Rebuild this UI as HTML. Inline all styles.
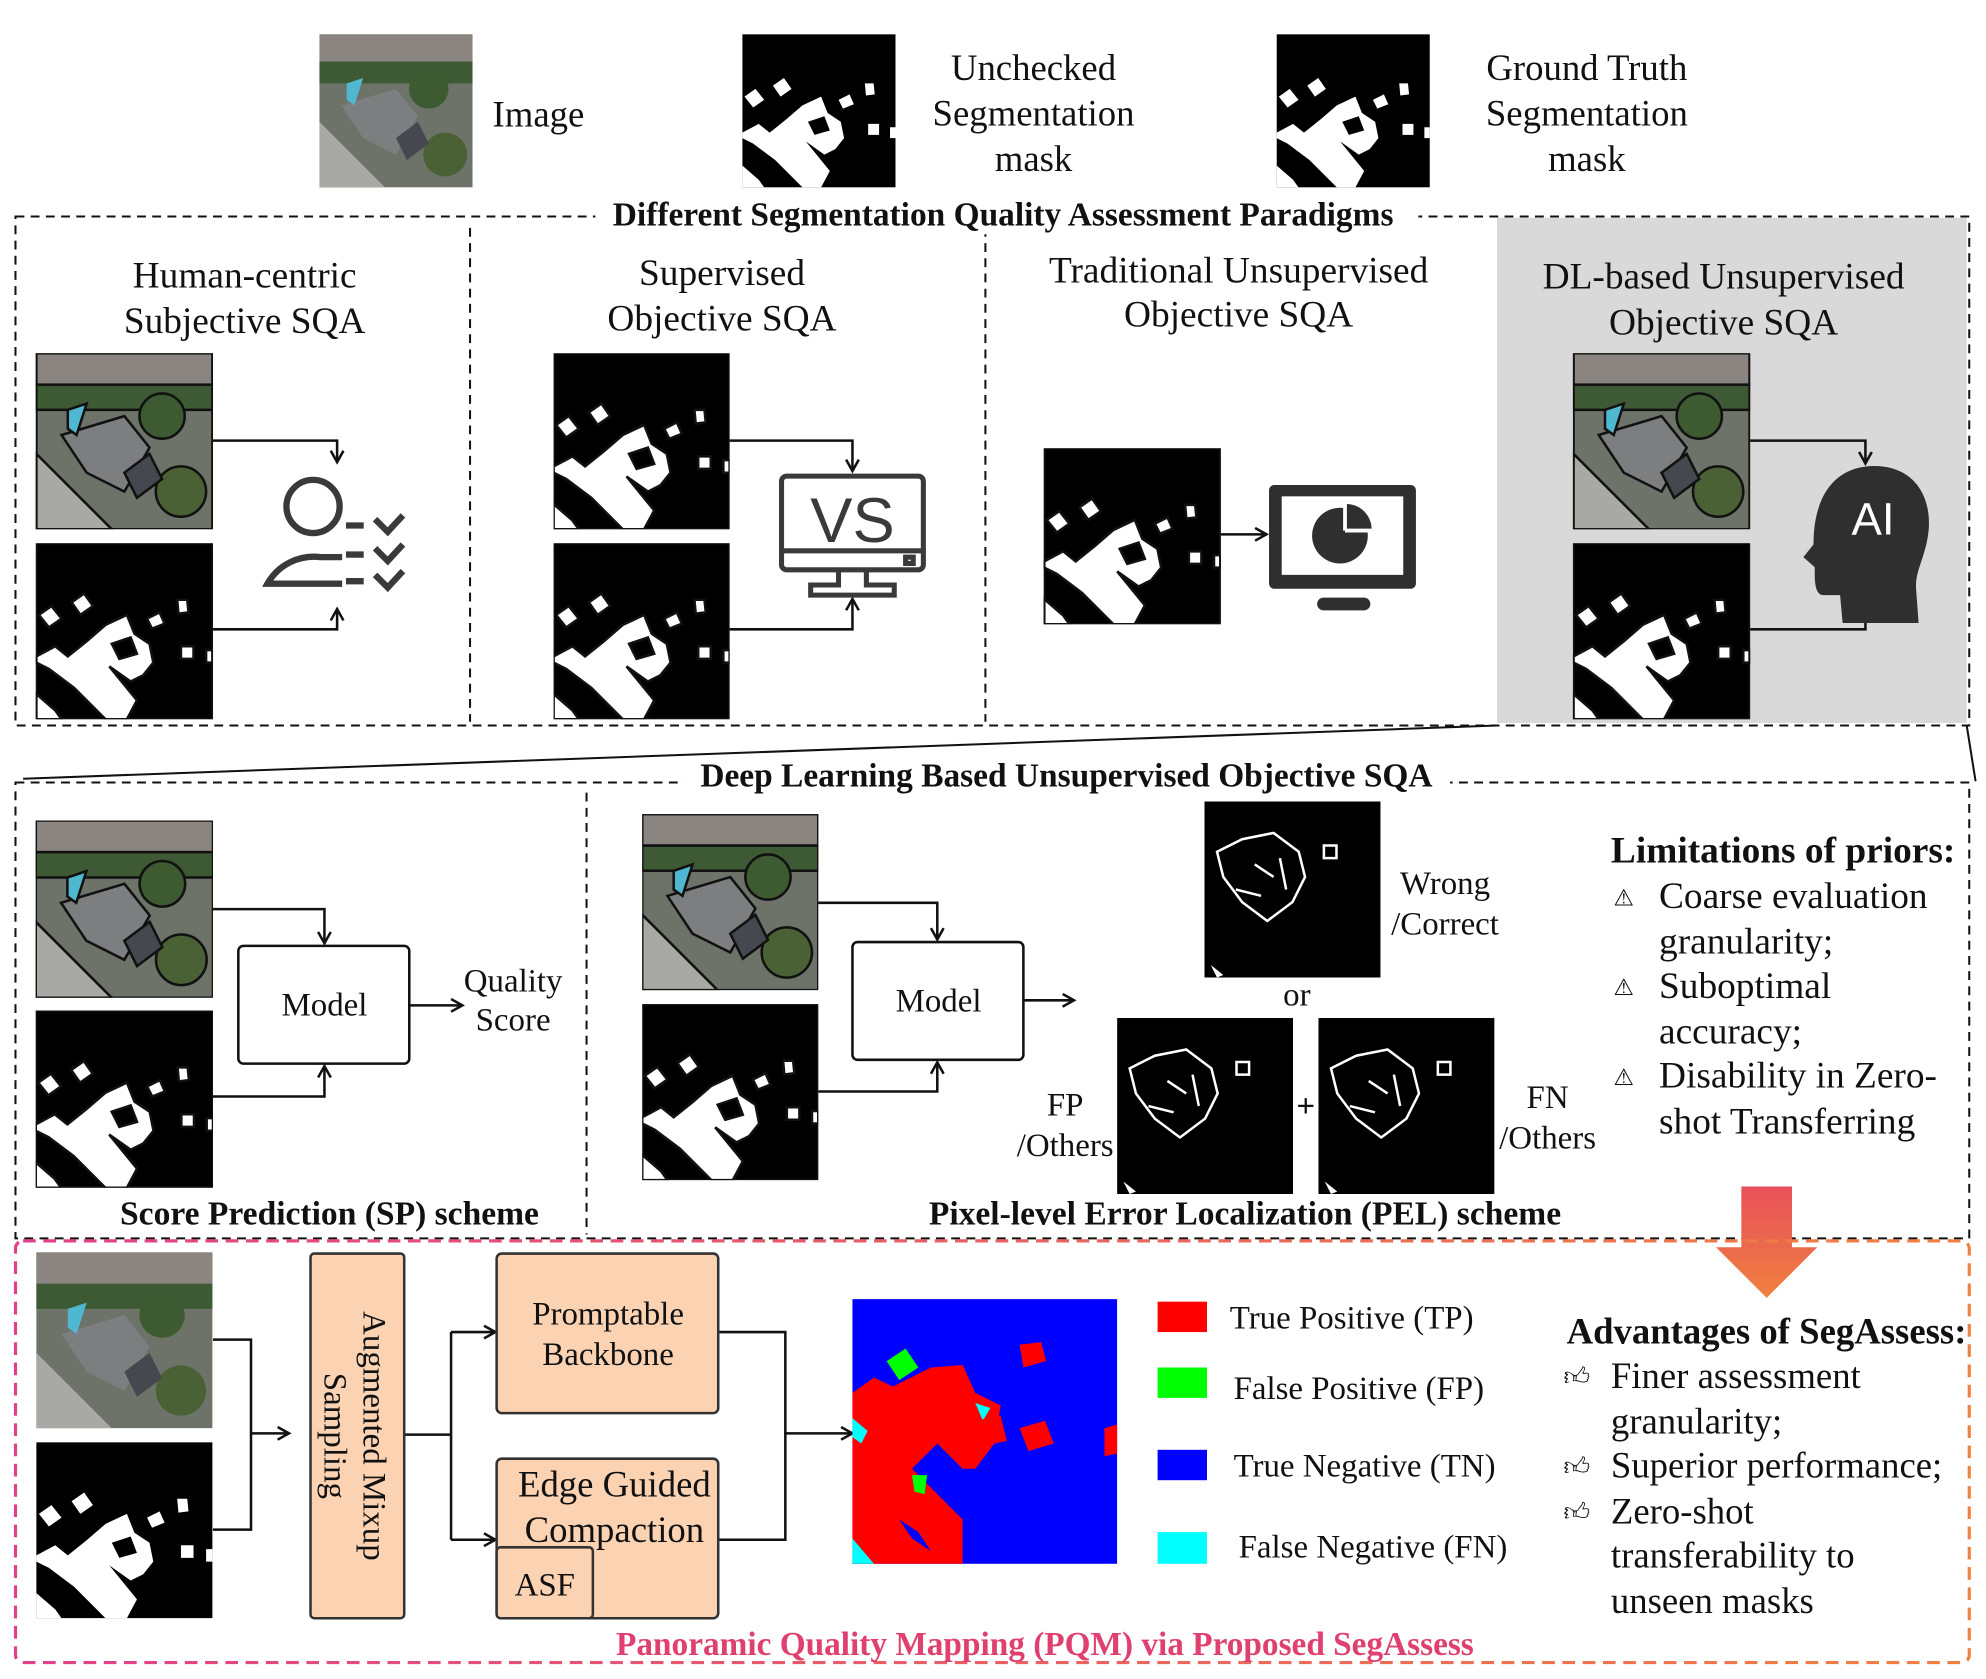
<!DOCTYPE html>
<html><head><meta charset="utf-8"><style>
html,body{margin:0;padding:0;background:#fff;}
svg{display:block;}
text{font-family:"Liberation Serif",serif;fill:#111;}
.b{font-weight:bold;}
</style></head><body>
<svg width="1986" height="1679" viewBox="0 0 1568 1326" xmlns="http://www.w3.org/2000/svg">
<defs>
<marker id="ah" markerWidth="12" markerHeight="12" refX="10" refY="6" orient="auto" markerUnits="userSpaceOnUse">
<path d="M1,1 L10,6 L1,11" fill="none" stroke="#111" stroke-width="2"/></marker>
<linearGradient id="rg" x1="0" y1="0" x2="0" y2="1"><stop offset="0" stop-color="#e8505a"/><stop offset="1" stop-color="#f08040"/></linearGradient>
<linearGradient id="pg" x1="0" y1="0" x2="1" y2="0"><stop offset="0" stop-color="#e0408a"/><stop offset="1" stop-color="#f08040"/></linearGradient>
<symbol id="mask" viewBox="0 0 140 140">
<rect width="140" height="140" fill="#000"/>
<path d="M0,90 L15,82 L25,90 L40,78 L55,65 L72,57 L78,72 L90,80 L93,95 L85,105 L75,110 L58,98 L80,125 L72,140 L55,140 L30,115 L10,100 L0,95Z" fill="#fff"/>
<path d="M2,57 L12,50 L20,60 L10,67Z M28,47 L38,40 L45,50 L35,57Z M88,60 L98,55 L102,64 L92,68Z M112,45 L120,45 L121,55 L113,56Z M115,82 L125,82 L125,92 L115,92Z M135,85 L140,85 L140,95 L135,95Z M0,120 L15,133 L20,140 L0,140Z" fill="#fff"/>
<path d="M60,80 L75,75 L80,88 L66,92Z" fill="#000"/>
</symbol>
<symbol id="err" viewBox="0 0 140 140">
<rect width="140" height="140" fill="#000"/>
<g fill="none" stroke="#fff" stroke-width="2">
<path d="M10,40 L30,30 L55,25 L75,40 L80,60 L70,80 L50,95 L30,80 L15,60Z"/>
<path d="M95,35 L105,35 L105,45 L95,45Z M40,50 L55,60 M60,45 L65,70 M25,70 L45,75"/>
</g>
<path d="M5,130 L15,138 L10,140 Z" fill="#fff"/>
</symbol>
<symbol id="aer" viewBox="0 0 140 140">
<rect width="140" height="140" fill="#6d7368"/>
<rect width="140" height="25" fill="#8a8580"/>
<rect y="25" width="140" height="20" fill="#3e5a35"/>
<path d="M0,80 L60,140 L0,140Z" fill="#a8a8a4"/>
<path d="M20,65 L70,50 L90,75 L70,110 L40,95Z" fill="#7c7e80"/>
<path d="M25,45 L40,40 L32,65 L25,60Z" fill="#4fb8d0"/>
<circle cx="100" cy="50" r="18" fill="#3d5a30"/><circle cx="115" cy="110" r="20" fill="#4a6035"/>
<path d="M70,95 L90,80 L100,100 L80,115Z" fill="#45484f"/>
</symbol>
</defs>

<!-- top legend -->
<use href="#aer" x="252" y="27" width="121" height="121"/>
<text x="425" y="100" font-size="29" text-anchor="middle">Image</text>
<use href="#mask" x="586" y="27" width="121" height="121"/>
<g font-size="29" text-anchor="middle"><text x="816" y="63">Unchecked</text><text x="816" y="99">Segmentation</text><text x="816" y="135">mask</text></g>
<use href="#mask" x="1008" y="27" width="121" height="121"/>
<g font-size="29" text-anchor="middle"><text x="1253" y="63">Ground Truth</text><text x="1253" y="99">Segmentation</text><text x="1253" y="135">mask</text></g>

<!-- box 1 -->
<rect x="1182" y="172" width="371" height="399" fill="#d9d9d9"/>
<rect x="12" y="171" width="1543" height="402" fill="none" stroke="#111" stroke-width="1.6" stroke-dasharray="7,5"/>
<g stroke="#111" stroke-width="1.6" stroke-dasharray="7,5"><line x1="371" y1="180" x2="371" y2="570"/><line x1="778" y1="180" x2="778" y2="570"/></g>
<rect x="470" y="155" width="650" height="30" fill="#fff"/>
<text x="792" y="178" font-size="26.4" class="b" text-anchor="middle">Different Segmentation Quality Assessment Paradigms</text>

<g font-size="29.5" text-anchor="middle">
<text x="193" y="227">Human-centric</text><text x="193" y="263">Subjective  SQA</text>
<text x="570" y="225">Supervised</text><text x="570" y="261">Objective SQA</text>
<text x="978" y="223">Traditional Unsupervised</text><text x="978" y="258">Objective SQA</text>
<text x="1361" y="228">DL-based Unsupervised</text><text x="1361" y="264">Objective SQA</text>
</g>
<g fill="none" stroke="#111" stroke-width="2">
<use href="#aer" x="28" y="279" width="140" height="139"/><use href="#mask" x="28" y="429" width="140" height="139"/>
<path d="M168,348 H266 V365" marker-end="url(#ah)"/><path d="M168,497 H266 V481" marker-end="url(#ah)"/>
<use href="#mask" x="437" y="279" width="139" height="139"/><use href="#mask" x="437" y="429" width="139" height="139"/>
<path d="M576,348 H673 V372" marker-end="url(#ah)"/><path d="M576,497 H673 V473" marker-end="url(#ah)"/>
<use href="#mask" x="824" y="354" width="140" height="139"/>
<path d="M964,422 H1000" marker-end="url(#ah)"/>
<use href="#aer" x="1242" y="279" width="140" height="139"/><use href="#mask" x="1242" y="429" width="140" height="139"/>
<path d="M1382,348 H1473 V366" marker-end="url(#ah)"/><path d="M1382,497 H1473 V482" marker-end="url(#ah)"/>
</g>
<!-- person icon -->
<g fill="none" stroke="#3a3a3a" stroke-width="5">
<circle cx="247" cy="400" r="21"/>
<path d="M270,440 H253 A42,42 0 0 0 211,461 H270"/>
<path d="M273,415 H287 M273,438 H287 M273,459 H287"/>
<path d="M296,410 L306,420 L318,407 M296,433 L306,443 L318,430 M296,454 L306,464 L318,451"/>
</g>
<!-- VS monitor -->
<g fill="none" stroke="#3a3a3a" stroke-width="4">
<rect x="617" y="376" width="112" height="74" rx="4"/><line x1="617" y1="435" x2="729" y2="435"/>
<path d="M662,450 V462 H640 V470 H706 V462 H684 V450"/><rect x="715" y="440" width="6" height="5"/>
</g>
<text x="673" y="428" font-size="50" text-anchor="middle" style="font-family:'Liberation Sans',sans-serif;fill:#3a3a3a">VS</text>
<!-- pie monitor -->
<rect x="1002" y="383" width="116" height="82" rx="4" fill="#2f2f2f"/>
<rect x="1012" y="392" width="96" height="62" fill="#fff"/>
<rect x="1040" y="472" width="42" height="10" rx="5" fill="#2f2f2f"/>
<circle cx="1058" cy="423" r="22" fill="#2f2f2f"/><path d="M1063,418 V398 A20,20 0 0 1 1083,418Z" fill="#2f2f2f"/><path d="M1062,419 V398" stroke="#fff" stroke-width="3"/><path d="M1062,419 H1084" stroke="#fff" stroke-width="3"/>
<!-- AI head -->
<path d="M1480,368 C1510,368 1525,390 1523,418 C1521,440 1512,450 1513,465 L1515,492 H1455 L1453,470 H1440 C1432,470 1433,455 1433,448 L1424,440 L1432,430 C1432,390 1450,368 1480,368Z" fill="#2f2f2f"/>
<text x="1479" y="422" font-size="36" text-anchor="middle" style="font-family:'Liberation Sans',sans-serif;fill:#fff">AI</text>

<!-- connectors -->
<g stroke="#111" stroke-width="1.6"><line x1="1182" y1="573" x2="18" y2="615"/><line x1="1553" y1="573" x2="1560" y2="617"/></g>

<!-- box 2 -->
<rect x="12" y="618" width="1543" height="360" fill="none" stroke="#111" stroke-width="1.6" stroke-dasharray="7,5"/>
<line x1="463" y1="626" x2="463" y2="975" stroke="#111" stroke-width="1.6" stroke-dasharray="7,5"/>
<rect x="540" y="600" width="605" height="30" fill="#fff"/>
<text x="842" y="621" font-size="26.4" class="b" text-anchor="middle">Deep Learning Based Unsupervised Objective SQA</text>
<g fill="none" stroke="#111" stroke-width="2">
<use href="#aer" x="28" y="648" width="140" height="140"/><use href="#mask" x="28" y="798" width="140" height="140"/>
<rect x="188" y="747" width="135" height="93" rx="4"/>
<path d="M168,718 H256 V745" marker-end="url(#ah)"/><path d="M168,866 H256 V842" marker-end="url(#ah)"/>
<path d="M323,794 H365" marker-end="url(#ah)"/>
<use href="#aer" x="507" y="643" width="139" height="139"/><use href="#mask" x="507" y="793" width="139" height="139"/>
<rect x="673" y="744" width="135" height="93" rx="4"/>
<path d="M646,713 H740 V742" marker-end="url(#ah)"/><path d="M646,862 H740 V839" marker-end="url(#ah)"/>
<path d="M808,790 H848" marker-end="url(#ah)"/>
</g>
<use href="#err" x="951" y="633" width="139" height="139"/>
<use href="#err" x="882" y="804" width="139" height="139"/>
<use href="#err" x="1041" y="804" width="139" height="139"/>
<g font-size="26" text-anchor="middle">
<text x="256" y="802">Model</text><text x="741" y="799">Model</text>
<text x="405" y="783">Quality</text><text x="405" y="814">Score</text>
<text x="1141" y="706">Wrong</text><text x="1141" y="738">/Correct</text>
<text x="1024" y="794">or</text>
<text x="841" y="881">FP</text><text x="841" y="913">/Others</text>
<text x="1222" y="875">FN</text><text x="1222" y="907">/Others</text>
</g>
<text x="1031" y="882" font-size="26" class="b" text-anchor="middle">+</text>
<text x="260" y="967" font-size="26.5" class="b" text-anchor="middle">Score Prediction (SP)  scheme</text>
<text x="983" y="967" font-size="26.5" class="b" text-anchor="middle">Pixel-level Error Localization  (PEL) scheme</text>
<text x="1408" y="681" font-size="29.5" class="b" text-anchor="middle">Limitations of priors:</text>
<g font-size="29.5"><text x="1310" y="717">Coarse evaluation</text><text x="1310" y="753">granularity;</text><text x="1310" y="788">Suboptimal</text><text x="1310" y="824">accuracy;</text><text x="1310" y="859">Disability in Zero-</text><text x="1310" y="895">shot Transferring</text></g>
<g font-size="18" text-anchor="middle"><text x="1282" y="715">⚠</text><text x="1282" y="786">⚠</text><text x="1282" y="857">⚠</text></g>
<!-- red arrow -->
<path d="M1375,937 H1415 V985 H1435 L1395,1025 L1355,985 H1375Z" fill="url(#rg)"/>

<!-- box 3 -->
<rect x="12" y="980" width="1543" height="333" rx="6" fill="none" stroke="url(#pg)" stroke-width="2.5" stroke-dasharray="10,6"/>
<text x="825" y="1307" font-size="26.3" class="b" text-anchor="middle" style="fill:#e04070">Panoramic Quality Mapping (PQM) via Proposed SegAssess</text>
<use href="#aer" x="28" y="989" width="140" height="139"/><use href="#mask" x="28" y="1139" width="140" height="139"/>
<g fill="none" stroke="#111" stroke-width="2">
<path d="M168,1058 H198 V1208 H168"/><path d="M198,1132 H228" marker-end="url(#ah)"/>
<path d="M319,1133 H356"/><path d="M356,1052 V1216"/><path d="M356,1052 H391" marker-end="url(#ah)"/><path d="M356,1216 H391" marker-end="url(#ah)"/>
<path d="M567,1052 H620 V1216 H567"/><path d="M620,1132 H673" marker-end="url(#ah)"/>
</g>
<g fill="#fbd3b3" stroke="#333" stroke-width="2">
<rect x="245" y="990" width="74" height="288" rx="3"/>
<rect x="392" y="990" width="175" height="126" rx="4"/>
<rect x="392" y="1152" width="175" height="126" rx="4"/>
<rect x="392" y="1222" width="76" height="56" rx="3"/>
</g>
<g font-size="26" text-anchor="middle">
<text transform="translate(287,1134) rotate(90)">Augmented Mixup</text>
<text transform="translate(256,1134) rotate(90)">Sampling</text>
<text x="480" y="1046">Promptable</text><text x="480" y="1078">Backbone</text>
</g>
<g font-size="29" text-anchor="middle"><text x="485" y="1182">Edge Guided</text><text x="485" y="1218">Compaction</text></g>
<text x="430" y="1260" font-size="26" text-anchor="middle">ASF</text>
<!-- result map -->
<rect x="673" y="1026" width="209" height="209" fill="#0000ff"/>
<path d="M673,1100 L690,1088 L705,1095 L735,1080 L760,1078 L770,1100 L790,1110 L785,1140 L770,1160 L760,1160 L740,1140 L720,1160 L760,1200 L760,1235 L673,1235Z" fill="#ff0000"/>
<path d="M700,1075 L715,1065 L725,1080 L710,1090Z M720,1165 L732,1165 L730,1180 L722,1178Z" fill="#00ff00"/>
<path d="M673,1120 L685,1130 L680,1140 L673,1135Z M770,1108 L782,1112 L776,1122Z M673,1215 L690,1235 L673,1235Z" fill="#00ffff"/>
<path d="M805,1062 L822,1060 L826,1075 L808,1080Z M770,1122 L790,1118 L795,1138 L775,1142Z M805,1128 L825,1122 L832,1140 L812,1146Z M872,1128 L882,1125 L882,1148 L872,1150Z" fill="#ff0000"/>
<path d="M710,1200 L725,1210 L735,1225 L720,1215Z" fill="#0000ff"/>
<!-- legend -->
<rect x="914" y="1028" width="39" height="24" fill="#ff0000"/>
<rect x="914" y="1080" width="39" height="24" fill="#00ff00"/>
<rect x="914" y="1145" width="39" height="24" fill="#0000ff"/>
<rect x="914" y="1210" width="39" height="25" fill="#00ffff"/>
<g font-size="26"><text x="971" y="1049">True Positive (TP)</text><text x="974" y="1105">False Positive (FP)</text><text x="974" y="1166">True Negative (TN)</text><text x="978" y="1230">False Negative (FN)</text></g>
<text x="1237" y="1061" font-size="29" class="b">Advantages of SegAssess:</text>
<g font-size="29"><text x="1272" y="1096">Finer  assessment</text><text x="1272" y="1132">granularity;</text><text x="1272" y="1167">Superior performance;</text><text x="1272" y="1203">Zero-shot</text><text x="1272" y="1238">transferability to</text><text x="1272" y="1274">unseen masks</text></g>
<g font-size="20" text-anchor="middle"><text x="1245" y="1094">👍︎</text><text x="1245" y="1165">👍︎</text><text x="1245" y="1201">👍︎</text></g>
</svg>
</body></html>
